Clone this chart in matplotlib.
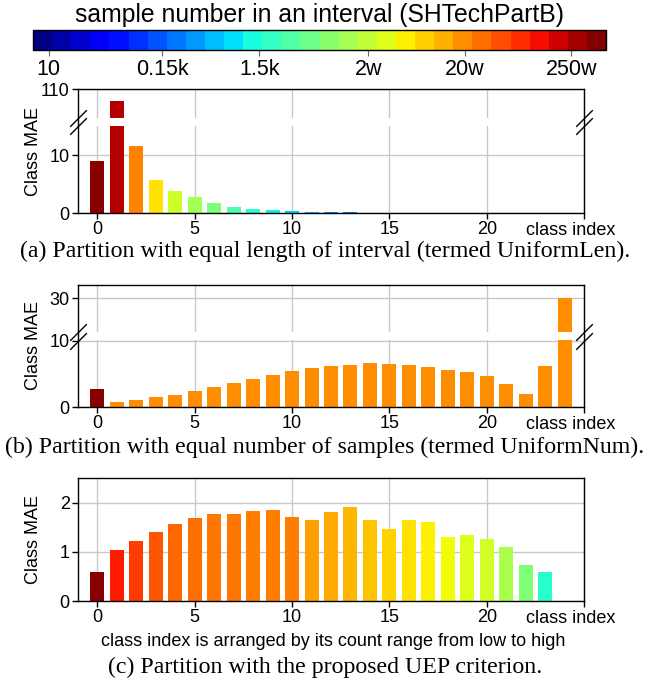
import numpy as np
import matplotlib
matplotlib.use("Agg")
import matplotlib.pyplot as plt
from matplotlib import transforms
from matplotlib.colors import LogNorm
from matplotlib.cm import ScalarMappable

# ---- data ----
cbar_ticks = [10, 150, 1500, 2e4, 2e5, 2.5e6]
cbar_labels = ["10", "0.15k", "1.5k", "2w", "20w", "250w"]

# (a) UniformLen
mae_a = [9.1, 108, 11.6, 5.8, 3.9, 2.7, 1.65, 1.1, 0.77, 0.58, 0.41, 0.25, 0.24, 0.2]
col_a = [0.99, 0.95, 0.77, 0.67, 0.60, 0.55, 0.50, 0.44, 0.40, 0.36, 0.33, 0.30, 0.27, 0.25]

# (b) UniformNum
mae_b = [2.75, 0.8, 1.1, 1.55, 1.85, 2.45, 3.05, 3.65, 4.25, 4.85, 5.45, 5.9, 6.2,
         6.35, 6.65, 6.5, 6.35, 6.05, 5.6, 5.3, 4.7, 3.5, 2.0, 6.2, 30]
col_b = [0.99] + [0.76] * 24

# (c) UEP
mae_c = [0.59, 1.04, 1.22, 1.40, 1.57, 1.69, 1.77, 1.77, 1.83, 1.85, 1.71, 1.65, 1.81,
         1.91, 1.65, 1.46, 1.65, 1.61, 1.30, 1.34, 1.26, 1.10, 0.73, 0.59]
col_c = [0.99, 0.88, 0.845, 0.82, 0.80, 0.79, 0.783, 0.783, 0.777, 0.777, 0.775, 0.74,
         0.73, 0.716, 0.70, 0.686, 0.67, 0.655, 0.641, 0.62, 0.603, 0.555, 0.505, 0.40]

captions = ["(a) Partition with equal length of interval (termed UniformLen).",
            "(b) Partition with equal number of samples (termed UniformNum).",
            "(c) Partition with the proposed UEP criterion."]

SANS = "Liberation Sans"
SERIF = "Liberation Serif"
plt.rcParams["font.family"] = SANS
plt.rcParams["font.size"] = 12.5

jet = plt.get_cmap("jet")
GRID = "#c8c8c8"


def broken_scale(lo, hi, gap):
    """squeeze [lo, hi] into a band of height gap (data units of the lower part)."""
    def fwd(y):
        y = np.asarray(y, dtype=float)
        return np.where(y <= lo, y, np.where(y >= hi, y - (hi - lo) + gap,
                                             lo + (y - lo) * gap / (hi - lo)))

    def inv(z):
        z = np.asarray(z, dtype=float)
        return np.where(z <= lo, z, np.where(z >= lo + gap, z + (hi - lo) - gap,
                                             lo + (z - lo) * (hi - lo) / gap))
    return fwd, inv


def panel(ax, vals, cols, ylim, yticks, brk=None):
    x = np.arange(len(vals))
    ax.set_axisbelow(True)
    if brk is not None:
        lo, hi, gap = brk
        ax.set_yscale("function", functions=broken_scale(lo, hi, gap))
    ax.bar(x, vals, width=0.72, color=jet(np.array(cols)), zorder=1)
    ax.set_xlim(-1, 25)
    ax.set_ylim(*ylim)
    ax.set_xticks([0, 5, 10, 15, 20, 25])
    ax.set_xticklabels(["0", "5", "10", "15", "20", ""])
    ax.set_yticks(yticks)
    ax.set_yticklabels([str(t) for t in yticks])
    ax.yaxis.set_minor_locator(matplotlib.ticker.NullLocator())
    ax.grid(True, color=GRID, lw=1.0)
    for s in ax.spines.values():
        s.set_color("black")
        s.set_linewidth(1.0)
    ax.tick_params(length=4, width=1, pad=2, labelsize=13)
    ax.set_ylabel("Class MAE", fontsize=13)
    ax.yaxis.set_label_coords(-0.072, 0.5)
    ax.annotate("class index", xy=(24.3, 0), xycoords=("data", "axes fraction"),
                xytext=(0, -6.5), textcoords="offset points", ha="center", va="top",
                fontsize=13)
    if brk is not None:
        lo, hi, gap = brk
        ax.axhspan(lo * 1.004, hi, color="white", lw=0, zorder=1.5)
        tr = transforms.blended_transform_factory(ax.transAxes, ax.transData)
        for xa in (0, 1):
            ax.plot([xa, xa], [lo, hi], transform=tr, marker=[(-1, -1), (1, 1)],
                    markersize=12, linestyle="none", mec="black", mew=1.0,
                    clip_on=False, zorder=3)


fig = plt.figure(figsize=(6.47, 6.83), dpi=100)
W, H = 647.0, 683.0


def box(x0, y0, x1, y1):
    return [x0 / W, 1 - y1 / H, (x1 - x0) / W, (y1 - y0) / H]


# colour bar on top
cax = fig.add_axes(box(33, 30, 606, 49.5))
sm = ScalarMappable(norm=LogNorm(vmin=6.9, vmax=5.7e6), cmap=plt.get_cmap("jet", 30))
cb = fig.colorbar(sm, cax=cax, orientation="horizontal", ticks=cbar_ticks)
cb.ax.xaxis.set_minor_locator(matplotlib.ticker.NullLocator())
cb.set_ticklabels(cbar_labels)
cb.ax.tick_params(labelsize=15.5, length=4, color="0.4", pad=3)
cb.outline.set_linewidth(1.0)
fig.text(0.5 * (33 + 606) / W, 1 - 15 / H, "sample number in an interval (SHTechPartB)",
         ha="center", va="center", fontsize=17.8)

ax_a = fig.add_axes(box(78, 89, 584, 213))
panel(ax_a, mae_a, col_a, (0, 110), [0, 10, 110], brk=(15, 105, 1.5))

ax_b = fig.add_axes(box(78, 285, 584, 407))
panel(ax_b, mae_b, col_b, (0, 32), [0, 10, 30], brk=(10, 25, 1.35))

ax_c = fig.add_axes(box(78, 478, 584, 601))
panel(ax_c, mae_c, col_c, (0, 2.5), [0, 1, 2])

for yc, cap in zip([251, 447, 667], captions):
    fig.text(325 / W, 1 - yc / H, cap, ha="center", va="center",
             family=SERIF, fontsize=17.2)
fig.text(333 / W, 1 - 641 / H, "class index is arranged by its count range from low to high",
         ha="center", va="center", fontsize=13)

fig.savefig("out.png", dpi=100)
